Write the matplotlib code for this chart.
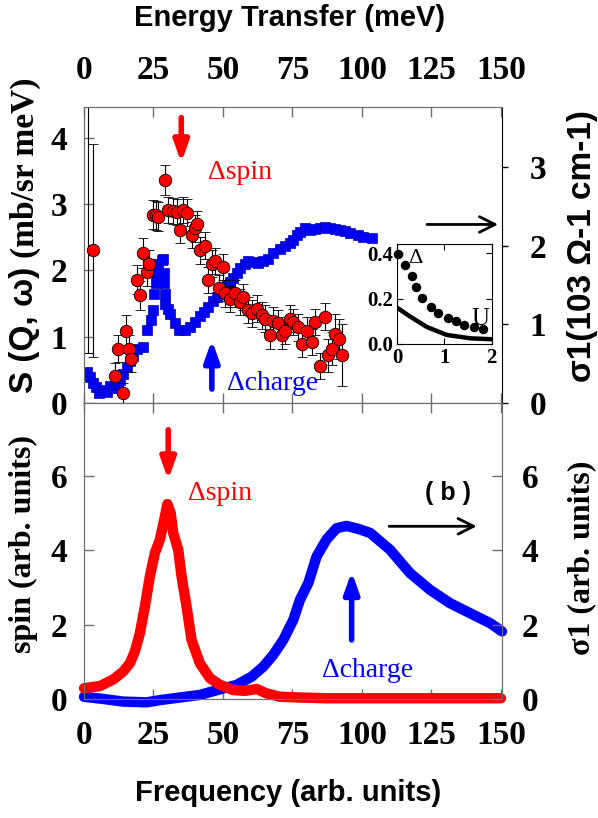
import matplotlib
matplotlib.use("Agg")
import matplotlib.pyplot as plt
import numpy as np

# ---------------- data ----------------
# top panel: S(Q,w) red circles (left axis)
spin_E = [3.4, 11.0, 13.9, 12.4, 15.0, 16.2, 16.8, 18.9, 20.1, 21.3, 22.8, 23.5,
          24.9, 25.8, 26.8, 29.3, 30.3, 32.1, 33.3, 34.5, 35.5, 37.2, 38.7, 39.9,
          40.8, 41.7, 43.5, 44.7, 45.9, 47.1, 48.7, 50.1, 50.7, 52.5, 54.3, 56.1,
          57.3, 59.1, 60.3, 62.1, 63.9, 65.1, 66.9, 68.1, 69.9, 71.1, 72.3, 74.1,
          75.3, 77.1, 78.3, 80.1, 81.9, 83.1, 84.9, 86.7, 87.9, 89.1, 90.3, 91.8, 93.0]
spin_S = [2.30, 0.41, 0.15, 0.82, 1.08, 0.82, 0.67, 1.86, 1.62, 2.26, 1.97, 2.10,
          2.84, 2.83, 2.81, 3.36, 2.91, 2.89, 2.88, 2.61, 2.91, 2.87, 2.53, 2.63,
          2.70, 2.30, 2.37, 1.85, 2.10, 2.14, 1.73, 2.05, 1.65, 1.57, 1.65, 1.52,
          1.60, 1.40, 1.35, 1.42, 1.32, 1.27, 1.02, 1.24, 1.20, 1.02, 1.09, 1.27,
          1.22, 1.14, 0.89, 1.09, 0.92, 1.22, 0.56, 1.30, 0.72, 0.82, 1.04, 0.97, 0.72]
spin_err = [1.60, 0.20, 0.15, 0.20, 0.25, 0.20, 0.20, 0.22, 0.22, 0.22, 0.20, 0.20,
            0.22, 0.22, 0.22, 0.23, 0.20, 0.20, 0.20, 0.20, 0.20, 0.20, 0.20, 0.20,
            0.20, 0.20, 0.20, 0.20, 0.20, 0.20, 0.20, 0.20, 0.20, 0.20, 0.20, 0.20,
            0.20, 0.20, 0.20, 0.20, 0.20, 0.20, 0.20, 0.20, 0.20, 0.20, 0.20, 0.20,
            0.20, 0.20, 0.20, 0.20, 0.20, 0.20, 0.20, 0.20, 0.25, 0.25, 0.30, 0.30, 0.47]
# off-scale point near zero energy (only its error bar is visible)
spin_off_E = [1.3]
spin_off_S = [5.2]
spin_off_err = [4.45]

# top panel: sigma1 blue squares (right axis)
sig_E = [1.0, 2.2, 3.4, 4.3, 5.5, 6.7, 8.2, 9.4, 10.6, 11.8, 13.0, 14.1, 15.3, 16.5,
         17.7, 19.2, 21.3, 22.8, 24.0, 24.7, 25.3, 25.8, 26.1, 26.7, 27.9, 28.5,
         28.8, 28.8, 29.0, 29.1, 30.3, 30.9, 32.7, 34.3, 36.3, 38.1, 39.9, 41.7,
         43.2, 44.7, 46.3, 47.7, 48.9, 50.1, 51.3, 52.5, 53.7, 54.9, 56.1, 57.9,
         59.1, 60.9, 62.7, 64.5, 66.3, 68.1, 70.5, 72.3, 74.1, 75.3, 76.5, 77.7,
         79.5, 81.3, 83.1, 84.9, 86.7, 88.5, 90.3, 92.1, 93.9, 95.7, 98.7, 100.5, 103.5]
sig_V = [0.40, 0.33, 0.25, 0.20, 0.13, 0.16, 0.14, 0.21, 0.19, 0.25, 0.29, 0.37, 0.46, 0.53,
         0.60, 0.68, 0.71, 0.93, 1.05, 1.18, 1.39, 1.52, 1.65, 1.77, 1.82, 1.83,
         1.65, 1.52, 1.39, 1.26, 1.19, 1.13, 1.01, 0.93, 0.93, 0.97, 1.03, 1.10,
         1.16, 1.22, 1.29, 1.35, 1.40, 1.46, 1.50, 1.54, 1.59, 1.65, 1.71, 1.77,
         1.80, 1.79, 1.78, 1.80, 1.83, 1.90, 1.96, 2.00, 2.03, 2.07, 2.13, 2.17,
         2.22, 2.20, 2.21, 2.22, 2.23, 2.22, 2.21, 2.20, 2.19, 2.16, 2.13, 2.11, 2.09]

# inset
inset_dot_U = [0.02, 0.16, 0.31, 0.41, 0.53, 0.71, 0.86, 1.07, 1.25, 1.42, 1.62, 1.81]
inset_dot_D = [0.398, 0.346, 0.301, 0.252, 0.204, 0.164, 0.137, 0.113, 0.100, 0.085, 0.075, 0.067]
inset_line_U = [0.0, 0.27, 0.63, 1.05, 1.55, 2.0]
inset_line_D = [0.16, 0.122, 0.075, 0.040, 0.025, 0.021]

# bottom panel
spin_f = [0, 5.8, 10.6, 14.1, 16.5, 18.3, 20.1, 21.9, 23.7, 25.5, 27.3, 29.1, 30.0, 31.2,
          32.1, 33.9, 35.1, 36.9, 38.7, 41.7, 45.3, 48.9, 53.7, 57.9, 62.1, 65.7, 70.5,
          77.7, 87.3, 100, 125, 150]
spin_a = [0.29, 0.35, 0.53, 0.74, 0.96, 1.28, 1.77, 2.49, 3.30, 3.93, 4.29, 4.91, 5.25, 5.0,
          4.47, 4.02, 3.30, 2.49, 1.59, 0.96, 0.56, 0.38, 0.24, 0.22, 0.27, 0.15, 0.06,
          0.04, 0.02, 0.02, 0.02, 0.02]
sig_f = [0, 7, 14.1, 22.5, 27.3, 34.5, 41.7, 48.9, 54.9, 60.3, 64.5, 68.1, 71.7, 75.3,
         77.7, 80.7, 83.7, 87.3, 90.9, 94.5, 98.7, 103, 110.1, 117.3, 124.5, 131.7,
         138.9, 146.2, 150.4]
sig_a = [0.06, 0.0, -0.07, -0.09, -0.03, 0.04, 0.11, 0.26, 0.38, 0.60, 0.87, 1.19, 1.59,
         2.13, 2.67, 3.12, 3.84, 4.30, 4.60, 4.66, 4.58, 4.47, 4.02, 3.39, 2.94, 2.58,
         2.31, 2.04, 1.82]

xticks = [0, 25, 50, 75, 100, 125, 150]

# ---------------- style ----------------
plt.rcParams['font.family'] = ['Liberation Serif', 'DejaVu Serif']
plt.rcParams['font.weight'] = 'bold'
SANS = ['Liberation Sans', 'DejaVu Sans']
SERIF = ['Liberation Serif', 'DejaVu Serif']
SPC = '#6e6e6e'
RED = '#ff0000'
BLUE = '#0000ff'

fig = plt.figure(figsize=(5.98, 8.18), dpi=100)
W, H = 598.0, 818.0

def rect(l, r, t, b):
    return [l / W, 1 - b / H, (r - l) / W, (b - t) / H]

ax = fig.add_axes(rect(84, 502, 107, 403))
axR = ax.twinx()
axR.set_zorder(ax.get_zorder() - 1)
ax.patch.set_visible(False)

XMAX = 150.4
ax.set_xlim(0, XMAX)
ax.set_ylim(0, 4.46)
axR.set_ylim(0, 3.76)

# sigma squares (behind)
axR.plot(sig_E, sig_V, 's', color=BLUE, ms=6.6, mec='#0000b0', mew=0.5)

# S(Q,w) circles
ax.errorbar(spin_off_E, spin_off_S, yerr=spin_off_err, fmt='o', mfc=RED, mec='k',
            ms=8, ecolor='k', elinewidth=0.8, capsize=3.5, capthick=0.8)
ax.errorbar(spin_E, spin_S, yerr=spin_err, fmt='o', mfc=RED, mec='k', mew=0.6,
            ms=9, ecolor='k', elinewidth=0.8, capsize=3.5, capthick=0.8)

ax.set_xticks(xticks)
ax.set_yticks([0, 1, 2, 3, 4])
axR.set_yticks([0, 1, 2, 3])
ax.tick_params(axis='x', direction='in', top=True, bottom=True, labeltop=True,
               labelbottom=False, length=7, width=1, pad=15, labelsize=24, color=SPC)
ax.tick_params(axis='y', direction='in', left=True, right=False, length=7, width=1,
               pad=12, labelsize=24, color=SPC)
axR.tick_params(axis='y', direction='out', length=4, width=1, pad=16, labelsize=24)
for s in ['left', 'bottom', 'top']:
    ax.spines[s].set_color(SPC)
    axR.spines[s].set_color(SPC)
ax.spines['right'].set_visible(False)
axR.spines['right'].set_color('k')

# annotations top
arr_kw = dict(shrinkA=0, shrinkB=0, mutation_scale=14)
ax.annotate('', xy=(35, 3.62), xytext=(35, 4.30),
            arrowprops=dict(arrowstyle='-|>,head_width=0.32,head_length=0.9',
                            color=RED, lw=4, **arr_kw))
ax.annotate('', xy=(46, 0.95), xytext=(46, 0.21),
            arrowprops=dict(arrowstyle='-|>,head_width=0.32,head_length=0.9',
                            color=BLUE, lw=4, **arr_kw))
ax.annotate('', xy=(149, 2.69), xytext=(123.4, 2.69),
            arrowprops=dict(arrowstyle='->,head_width=0.4,head_length=0.8',
                            color='k', lw=2, **arr_kw), annotation_clip=False)
ax.text(56, 3.48, 'Δspin', color=RED, fontsize=20, fontweight='normal',
        ha='center', va='center')
ax.text(68, 0.29, 'Δcharge', color=BLUE, fontsize=20, fontweight='normal',
        ha='center', va='center')

# inset
ins = fig.add_axes(rect(397, 491.5, 244, 344))
ins.set_zorder(5)
ins.plot(inset_line_U, inset_line_D, '-', color='k', lw=3.2, solid_capstyle='round')
ins.plot(inset_dot_U, inset_dot_D, 'o', color='k', ms=5.8, clip_on=False)
ins.set_xlim(0, 2)
ins.set_ylim(0, 0.44)
ins.set_xticks([0, 1, 2])
ins.set_yticks([0.0, 0.2, 0.4])
ins.set_yticklabels(['0.0', '0.2', '0.4'])
ins.tick_params(direction='in', top=True, right=True, length=4, width=0.8,
                labelsize=15, pad=3)
ins.text(0.24, 0.375, 'Δ', fontsize=16, fontweight='normal', ha='left', va='center')
ins.text(1.76, 0.11, 'U', fontsize=18, fontweight='normal', ha='center', va='center')

# ---------------- bottom panel ----------------
bx = fig.add_axes(rect(84, 502, 403, 699))
bxR = bx.twinx()
bx.set_xlim(0, XMAX)
bx.set_ylim(0, 7.97)
bxR.set_ylim(0, 7.97)
bx.plot(sig_f, sig_a, '-', color=BLUE, lw=7.5, solid_capstyle='round',
        solid_joinstyle='round', clip_on=False)
bx.plot(spin_f, spin_a, '-', color=RED, lw=7.5, solid_capstyle='round',
        solid_joinstyle='round', clip_on=False)
bx.set_xticks(xticks)
bx.set_yticks([0, 2, 4, 6])
bxR.set_yticks([0, 2, 4, 6])
bx.tick_params(axis='x', direction='in', top=True, bottom=True, length=7, width=1,
               pad=15, labelsize=24, color=SPC)
bx.tick_params(axis='y', direction='in', left=True, right=False, length=7, width=1,
               pad=12, labelsize=24, color=SPC)
bxR.tick_params(axis='y', direction='in', length=7, width=1, pad=14, labelsize=24,
                color=SPC)
for s in ['left', 'bottom', 'top', 'right']:
    bx.spines[s].set_color(SPC)
    bxR.spines[s].set_color(SPC)

bx.annotate('', xy=(30.3, 5.9), xytext=(30.3, 7.25),
            arrowprops=dict(arrowstyle='-|>,head_width=0.32,head_length=0.9',
                            color=RED, lw=4, **arr_kw))
bx.annotate('', xy=(96.3, 3.43), xytext=(96.3, 1.59),
            arrowprops=dict(arrowstyle='-|>,head_width=0.32,head_length=0.9',
                            color=BLUE, lw=4, **arr_kw))
bx.annotate('', xy=(141.3, 4.65), xytext=(109.8, 4.65),
            arrowprops=dict(arrowstyle='->,head_width=0.4,head_length=0.8',
                            color='k', lw=2, **arr_kw))
bx.text(48.9, 5.54, 'Δspin', color=RED, fontsize=20, fontweight='normal',
        ha='center', va='center')
bx.text(102, 0.78, 'Δcharge', color=BLUE, fontsize=20, fontweight='normal',
        ha='center', va='center')
bx.text(131, 5.54, '( b )', color='k', fontsize=18, fontweight='bold',
        family=SANS, ha='center', va='center')

# ---------------- axis labels ----------------
fig.text(290 / W, 1 - 18 / H, 'Energy Transfer (meV)', ha='center', va='center',
         fontsize=21, fontweight='bold', family=SANS)
fig.text(288 / W, 1 - 793 / H, 'Frequency (arb. units)', ha='center', va='center',
         fontsize=21, fontweight='bold', family=SANS)
t1 = fig.text(25 / W, 1 - 393 / H, 'S (Q, ω) ', rotation=90, ha='center', va='bottom',
              fontsize=24, fontweight='bold', family=SANS)
fig.add_artist(matplotlib.text.Annotation(
    '(mb/sr meV)', xy=(0.5, 1.0), xycoords=t1, rotation=90, ha='center',
    va='bottom', fontsize=24, fontweight='bold', family=SERIF))
fig.text(582 / W, 1 - 246 / H, 'σ1(103 Ω-1 cm-1)', rotation=90, ha='center',
         va='center', fontsize=24, fontweight='bold', family=SANS)
fig.text(23 / W, 1 - 544 / H, 'spin (arb. units)', rotation=90, ha='center',
         va='center', fontsize=23, fontweight='bold', family=SERIF)
fig.text(582 / W, 1 - 558 / H, 'σ1 (arb. units)', rotation=90, ha='center',
         va='center', fontsize=23, fontweight='bold', family=SERIF)

fig.savefig('out.png', dpi=100)
